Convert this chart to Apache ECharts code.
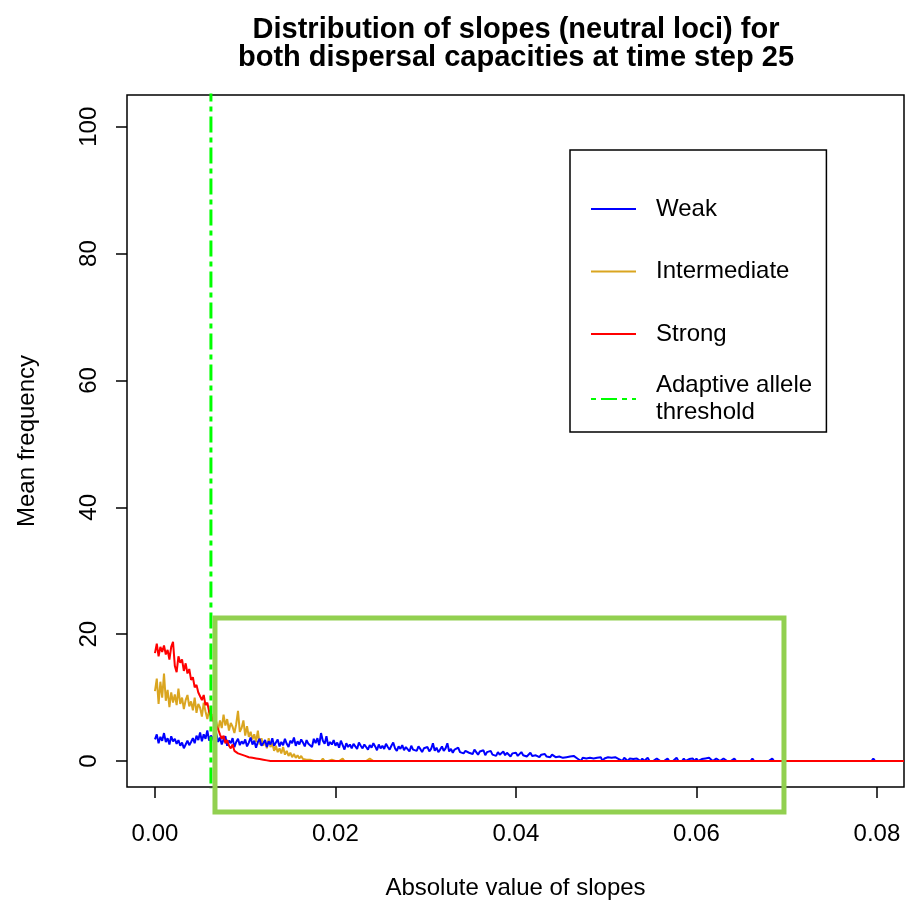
<!DOCTYPE html>
<html>
<head>
<meta charset="utf-8">
<title>Distribution of slopes</title>
<script src="https://cdn.jsdelivr.net/npm/echarts@6.0.0/dist/echarts.min.js"></script>
<style>
html, body { margin: 0; padding: 0; background: #fff; }
#chart { width: 906px; height: 902px; }
</style>
</head>
<body>
<div id="chart"></div>
<script>
// histogram bins of |slope|, width 0.0002, starting at 0
var binWidth = 0.0002;
var xTicks = [0, 0.02, 0.04, 0.06, 0.08];
var yTicks = [0, 20, 40, 60, 80, 100];
var threshold = 0.0062;   // adaptive allele threshold
var lastSlope = 0.083;    // strong series stays at 0 up to here

var weak = [
  3.4, 4.2, 2.8, 3.8, 3.2, 4.4, 3.0, 3.6, 2.6, 3.9,
  3.1, 3.5, 2.7, 3.3, 2.4, 2.9, 2.0, 2.6, 3.2, 2.5,
  3.0, 3.6, 2.8, 4.0, 3.3, 4.5, 3.1, 4.2, 3.5, 4.8,
  3.2, 4.0, 3.6, 2.9, 4.3, 3.0, 3.7, 2.6, 3.4, 3.9,
  2.4, 3.2, 2.8, 3.6, 2.2, 3.0, 3.5, 2.5, 3.1, 2.7,
  3.4, 2.3, 2.9, 3.7, 2.6, 3.2, 2.1, 3.0, 3.5, 2.4,
  2.8, 3.3, 2.2, 3.1, 2.6, 3.6, 2.4, 2.9, 3.4, 2.3,
  3.0, 2.5, 3.5, 2.7, 2.2, 3.2, 2.8, 3.7, 2.4, 3.1,
  2.6, 3.4, 2.9, 2.3, 3.3, 2.7, 3.0, 2.2, 3.5, 2.8,
  3.6, 2.5, 4.4, 3.2, 2.7, 3.9, 2.4, 3.0, 2.6, 3.3,
  2.4, 2.9, 2.1, 3.2, 2.5, 1.8, 2.8, 2.2, 2.6, 2.0,
  2.7, 2.3, 1.9, 2.9, 2.4, 2.0, 2.6, 2.2, 1.8, 2.5,
  2.1, 2.8, 2.3, 1.7, 2.6, 2.0, 2.4, 1.9, 2.7, 2.2,
  1.8, 2.4, 2.9, 2.0, 1.6, 2.3, 1.9, 2.5, 1.7, 2.2,
  2.0, 1.5, 2.4, 1.8, 2.1, 1.6, 2.3, 1.9, 1.4, 2.0,
  1.7, 2.2, 1.5, 1.9, 2.8, 1.6, 2.1, 1.4, 1.8, 2.3,
  1.6, 2.0, 2.8, 1.5, 1.9, 1.3, 1.8, 1.5, 2.1, 1.4,
  1.7, 1.2, 1.6, 1.9, 1.3, 1.5, 1.1, 1.8, 1.4, 1.0,
  1.5, 1.2, 1.7, 0.9, 1.4, 1.1, 1.6, 1.0, 1.3, 0.8,
  1.4, 1.0, 1.2, 1.5, 0.9, 1.3, 1.1, 0.7, 1.2, 1.0,
  1.3, 0.8, 1.1, 1.4, 0.9, 1.2, 0.7, 1.0, 1.3, 0.8,
  1.1, 0.9, 1.2, 0.6, 1.0, 0.8, 1.1, 0.7, 0.9, 0.6,
  1.0, 0.8, 0.6, 0.9, 0.7, 1.0, 0.5, 0.8, 0.6, 0.9,
  0.7, 0.5, 0.8, 0.6, 0.4, 0.7, 0, 0.5, 0.6, 0.4,
  0.6, 0.5, 0.7, 0.4, 0.6, 0.5, 0.3, 0.6, 0, 0.4,
  0.5, 0.6, 0.3, 0.5, 0.4, 0.6, 0.5, 0.3, 0.4, 0,
  0.5, 0.3, 0, 0.4, 0.5, 0.3, 0, 0.4, 0.3, 0,
  0.4, 0, 0.3, 0.5, 0, 0.3, 0, 0, 0.4, 0.3,
  0, 0.3, 0, 0, 0.4, 0, 0.3, 0, 0, 0.5,
  0, 0.3, 0, 0.4, 0, 0, 0.3, 0, 0.4, 0,
  0.4, 0, 0, 0.3, 0, 0.4, 0.3, 0.5, 0.3, 0,
  0, 0.4, 0.3, 0, 0, 0.4, 0.3, 0, 0, 0,
  0, 0.4, 0, 0, 0, 0, 0, 0, 0, 0,
  0, 0.4, 0, 0, 0, 0, 0, 0, 0, 0,
  0, 0, 0.4, 0, 0, 0, 0, 0, 0, 0,
  0, 0, 0, 0, 0.3, 0, 0, 0, 0.3, 0,
  0, 0, 0, 0, 0, 0, 0, 0, 0, 0,
  0, 0, 0, 0, 0, 0, 0, 0, 0, 0,
  0, 0, 0, 0, 0, 0, 0, 0, 0, 0,
  0, 0, 0, 0, 0, 0, 0, 0, 0.4, 0
];

var intermediate = [
  11, 13, 9, 12.5, 10, 13.8, 9.5, 11.2, 8.5, 10.8,
  9.2, 10.5, 8.8, 11.4, 9, 10, 8.2, 9.6, 10.4, 8.6,
  9.4, 8, 10, 7.6, 9, 8.4, 7, 9.2, 7.8, 6.6,
  8, 6.8, 7.4, 5.6, 6.2, 4.9, 6.4, 5.2, 7.3, 5.6,
  6.6, 4.8, 6, 5.4, 4.4, 5.8, 7.9, 4.6, 5.2, 6.4,
  4, 5.5, 3.8, 4.6, 3.4, 4.2, 3, 4.8, 2.6, 3.6,
  2.4, 3.2, 2, 3.6, 2.2, 2.8, 1.6, 2.4, 1.4, 2,
  1.2, 2.2, 1, 1.6, 0.8, 1.3, 0.6, 1.1, 0.5, 0.9,
  0.4, 0.8, 0.3, 0.6, 0.2, 0.5, 0.2, 0.4, 0, 0.3,
  0, 0.2, 0, 0.4, 0, 0.3, 0, 0, 0.2, 0,
  0, 0.3, 0, 0, 0.4, 0, 0.3, 0, 0.2, 0,
  0, 0, 0, 0, 0, 0, 0, 0, 0, 0.4,
  0.3, 0, 0, 0, 0
];

var strong = [
  17, 18.5, 16.5, 18, 17.2, 18.2, 16.8, 17.5, 16, 18,
  18.8, 15, 14, 16.5, 15.5, 16, 14.2, 15.4, 13.8, 14.5,
  12.8, 13.2, 11.6, 12, 10.8, 10.2, 9.6, 10.4, 8.8, 9.2,
  7.8, 7.2, 6.5, 6.8, 5.5, 5.0, 4.2, 3.5, 4.0, 2.8,
  3.3, 2.4, 2.0, 2.6, 1.6, 1.9, 1.2, 1.5, 1.0, 1.3,
  0.8, 1.1, 0.6, 0.9, 0.5, 0.7, 0.4, 0.6, 0.3, 0.5,
  0.2, 0.4, 0.1, 0.3, 0, 0, 0, 0, 0, 0
];

// the green box drawn over the plot, in data units
var boxX = [0.00665, 0.0697];
var boxY = [-8.05, 22.55];

var font = "'Liberation Sans', Arial, sans-serif";

function toPoints(values) {
  return values.map(function (v, i) {
    return [+(i * binWidth).toFixed(4), v];
  });
}

var strongPts = toPoints(strong);
strongPts.push([lastSlope, 0]);

var myChart = echarts.init(document.getElementById('chart'));
myChart.setOption({
  animation: false,
  backgroundColor: '#fff',
  title: {
    text: 'Distribution of slopes (neutral loci) for\nboth dispersal capacities at time step 25',
    left: 516,
    top: 16,
    padding: 0,
    textAlign: 'center',
    textStyle: { fontFamily: font, fontSize: 29, fontWeight: 'bold', lineHeight: 28, color: '#000' }
  },
  grid: {
    left: 127, right: 2, top: 95, bottom: 115,
    show: true, borderColor: '#000', borderWidth: 1.5,
    outerBoundsMode: 'none'
  },
  legend: [
    {
      data: ['Weak', 'Intermediate', 'Strong'],
      orient: 'vertical',
      left: 570, top: 150,
      padding: [45.5, 37, 84.5, 20],
      itemGap: 35.5,
      itemWidth: 45, itemHeight: 14,
      borderColor: '#000', borderWidth: 1.5,
      selectedMode: false,
      itemStyle: { opacity: 0 },
      textStyle: { fontFamily: font, fontSize: 24, lineHeight: 27, color: '#000', padding: [0, 0, 0, 15] }
    },
    {
      data: ['Adaptive allele threshold'],
      formatter: function () { return 'Adaptive allele\nthreshold'; },
      orient: 'vertical',
      left: 590, top: 372,
      padding: 0,
      itemWidth: 45, itemHeight: 14,
      selectedMode: false,
      itemStyle: { opacity: 0 },
      textStyle: { fontFamily: font, fontSize: 24, lineHeight: 27, color: '#000', padding: [0, 0, 0, 15] }
    }
  ],
  xAxis: {
    type: 'value',
    min: -0.0031, max: 0.083,
    name: 'Absolute value of slopes',
    nameLocation: 'middle',
    nameGap: 89,
    nameTextStyle: { fontFamily: font, fontSize: 24, color: '#000' },
    axisLine: { show: false, onZero: false },
    splitLine: { show: false },
    axisTick: { show: true, customValues: xTicks, length: 11, lineStyle: { color: '#000', width: 1.5 } },
    axisLabel: {
      customValues: xTicks, margin: 35,
      fontFamily: font, fontSize: 24, color: '#000',
      formatter: function (v) { return v.toFixed(2); }
    }
  },
  yAxis: {
    type: 'value',
    min: -4.1, max: 105,
    name: 'Mean frequency',
    nameLocation: 'middle',
    nameGap: 88,
    nameTextStyle: { fontFamily: font, fontSize: 24, color: '#000' },
    axisLine: { show: false, onZero: false },
    splitLine: { show: false },
    axisTick: { show: true, customValues: yTicks, length: 11, lineStyle: { color: '#000', width: 1.5 } },
    axisLabel: {
      customValues: yTicks, margin: 26, rotate: 90,
      fontFamily: font, fontSize: 24, color: '#000'
    }
  },
  series: [
    {
      name: 'Intermediate', type: 'line', data: toPoints(intermediate),
      symbol: 'none', color: '#DAA520', lineStyle: { color: '#DAA520', width: 2 }
    },
    {
      name: 'Weak', type: 'line', data: toPoints(weak),
      symbol: 'none', color: '#0000FF', lineStyle: { color: '#0000FF', width: 2 }
    },
    {
      name: 'Strong', type: 'line', data: strongPts,
      symbol: 'none', color: '#FF0000', lineStyle: { color: '#FF0000', width: 2 }
    },
    {
      name: 'Adaptive allele threshold', type: 'line',
      data: [[threshold, -10], [threshold, 120]],
      symbol: 'none', color: '#00FF00',
      lineStyle: { color: '#00FF00', width: 3, type: [5, 5, 16, 5] }
    }
  ]
});

// green highlight box, placed from data coordinates
var p0 = myChart.convertToPixel({ gridIndex: 0 }, [boxX[0], boxY[1]]);
var p1 = myChart.convertToPixel({ gridIndex: 0 }, [boxX[1], boxY[0]]);
myChart.setOption({
  graphic: [{
    type: 'rect',
    z: 100,
    shape: { x: p0[0], y: p0[1], width: p1[0] - p0[0], height: p1[1] - p0[1] },
    style: { fill: 'none', stroke: '#92D050', lineWidth: 5 }
  }]
});
</script>
</body>
</html>
